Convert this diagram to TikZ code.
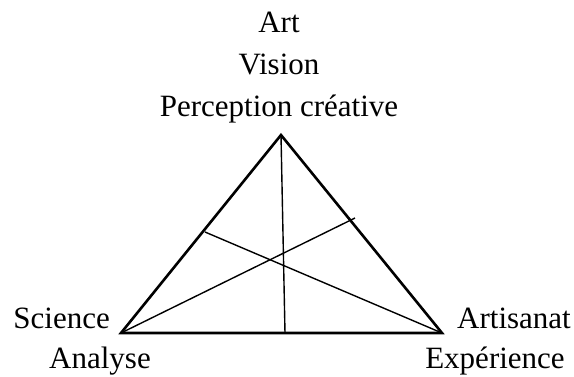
\documentclass[tikz,border=0pt]{standalone}
\usepackage{fontspec}
\setmainfont{Liberation Serif}
\begin{document}
\begin{tikzpicture}[x=1pt,y=-1pt,
  lbl/.style={inner sep=0pt,font=\fontsize{31}{37}\selectfont},
  edge/.style={line width=2.6pt,line join=miter},
  inner/.style={line width=1.4pt}]
\useasboundingbox (0,0) rectangle (574,376);
% vertices
\coordinate (T) at (281,135);
\coordinate (L) at (121,333);
\coordinate (R) at (442,333);
% inner line ends
\coordinate (B) at (285,333);
\coordinate (P) at (355,218);
\coordinate (Q) at (205,232);
\draw[edge] (T) -- (R) -- (L) -- cycle;
\draw[inner] (T) -- (B);
\draw[inner] (L) -- (P);
\draw[inner] (R) -- (Q);
% labels
\node[lbl,anchor=base] (art) at (279,32) {Art};
\node[lbl,anchor=base] (vision) at (279,74) {Vision};
\node[lbl,anchor=base] (perc) at (279,116) {Perception créative};
\node[lbl,anchor=base east] (sci) at (110,328) {Science};
\node[lbl,anchor=base] (ana) at (100,368) {Analyse};
\node[lbl,anchor=base west] (arti) at (457,328) {Artisanat};
\node[lbl,anchor=base] (exp) at (495,368) {Expérience};
\end{tikzpicture}
\end{document}
